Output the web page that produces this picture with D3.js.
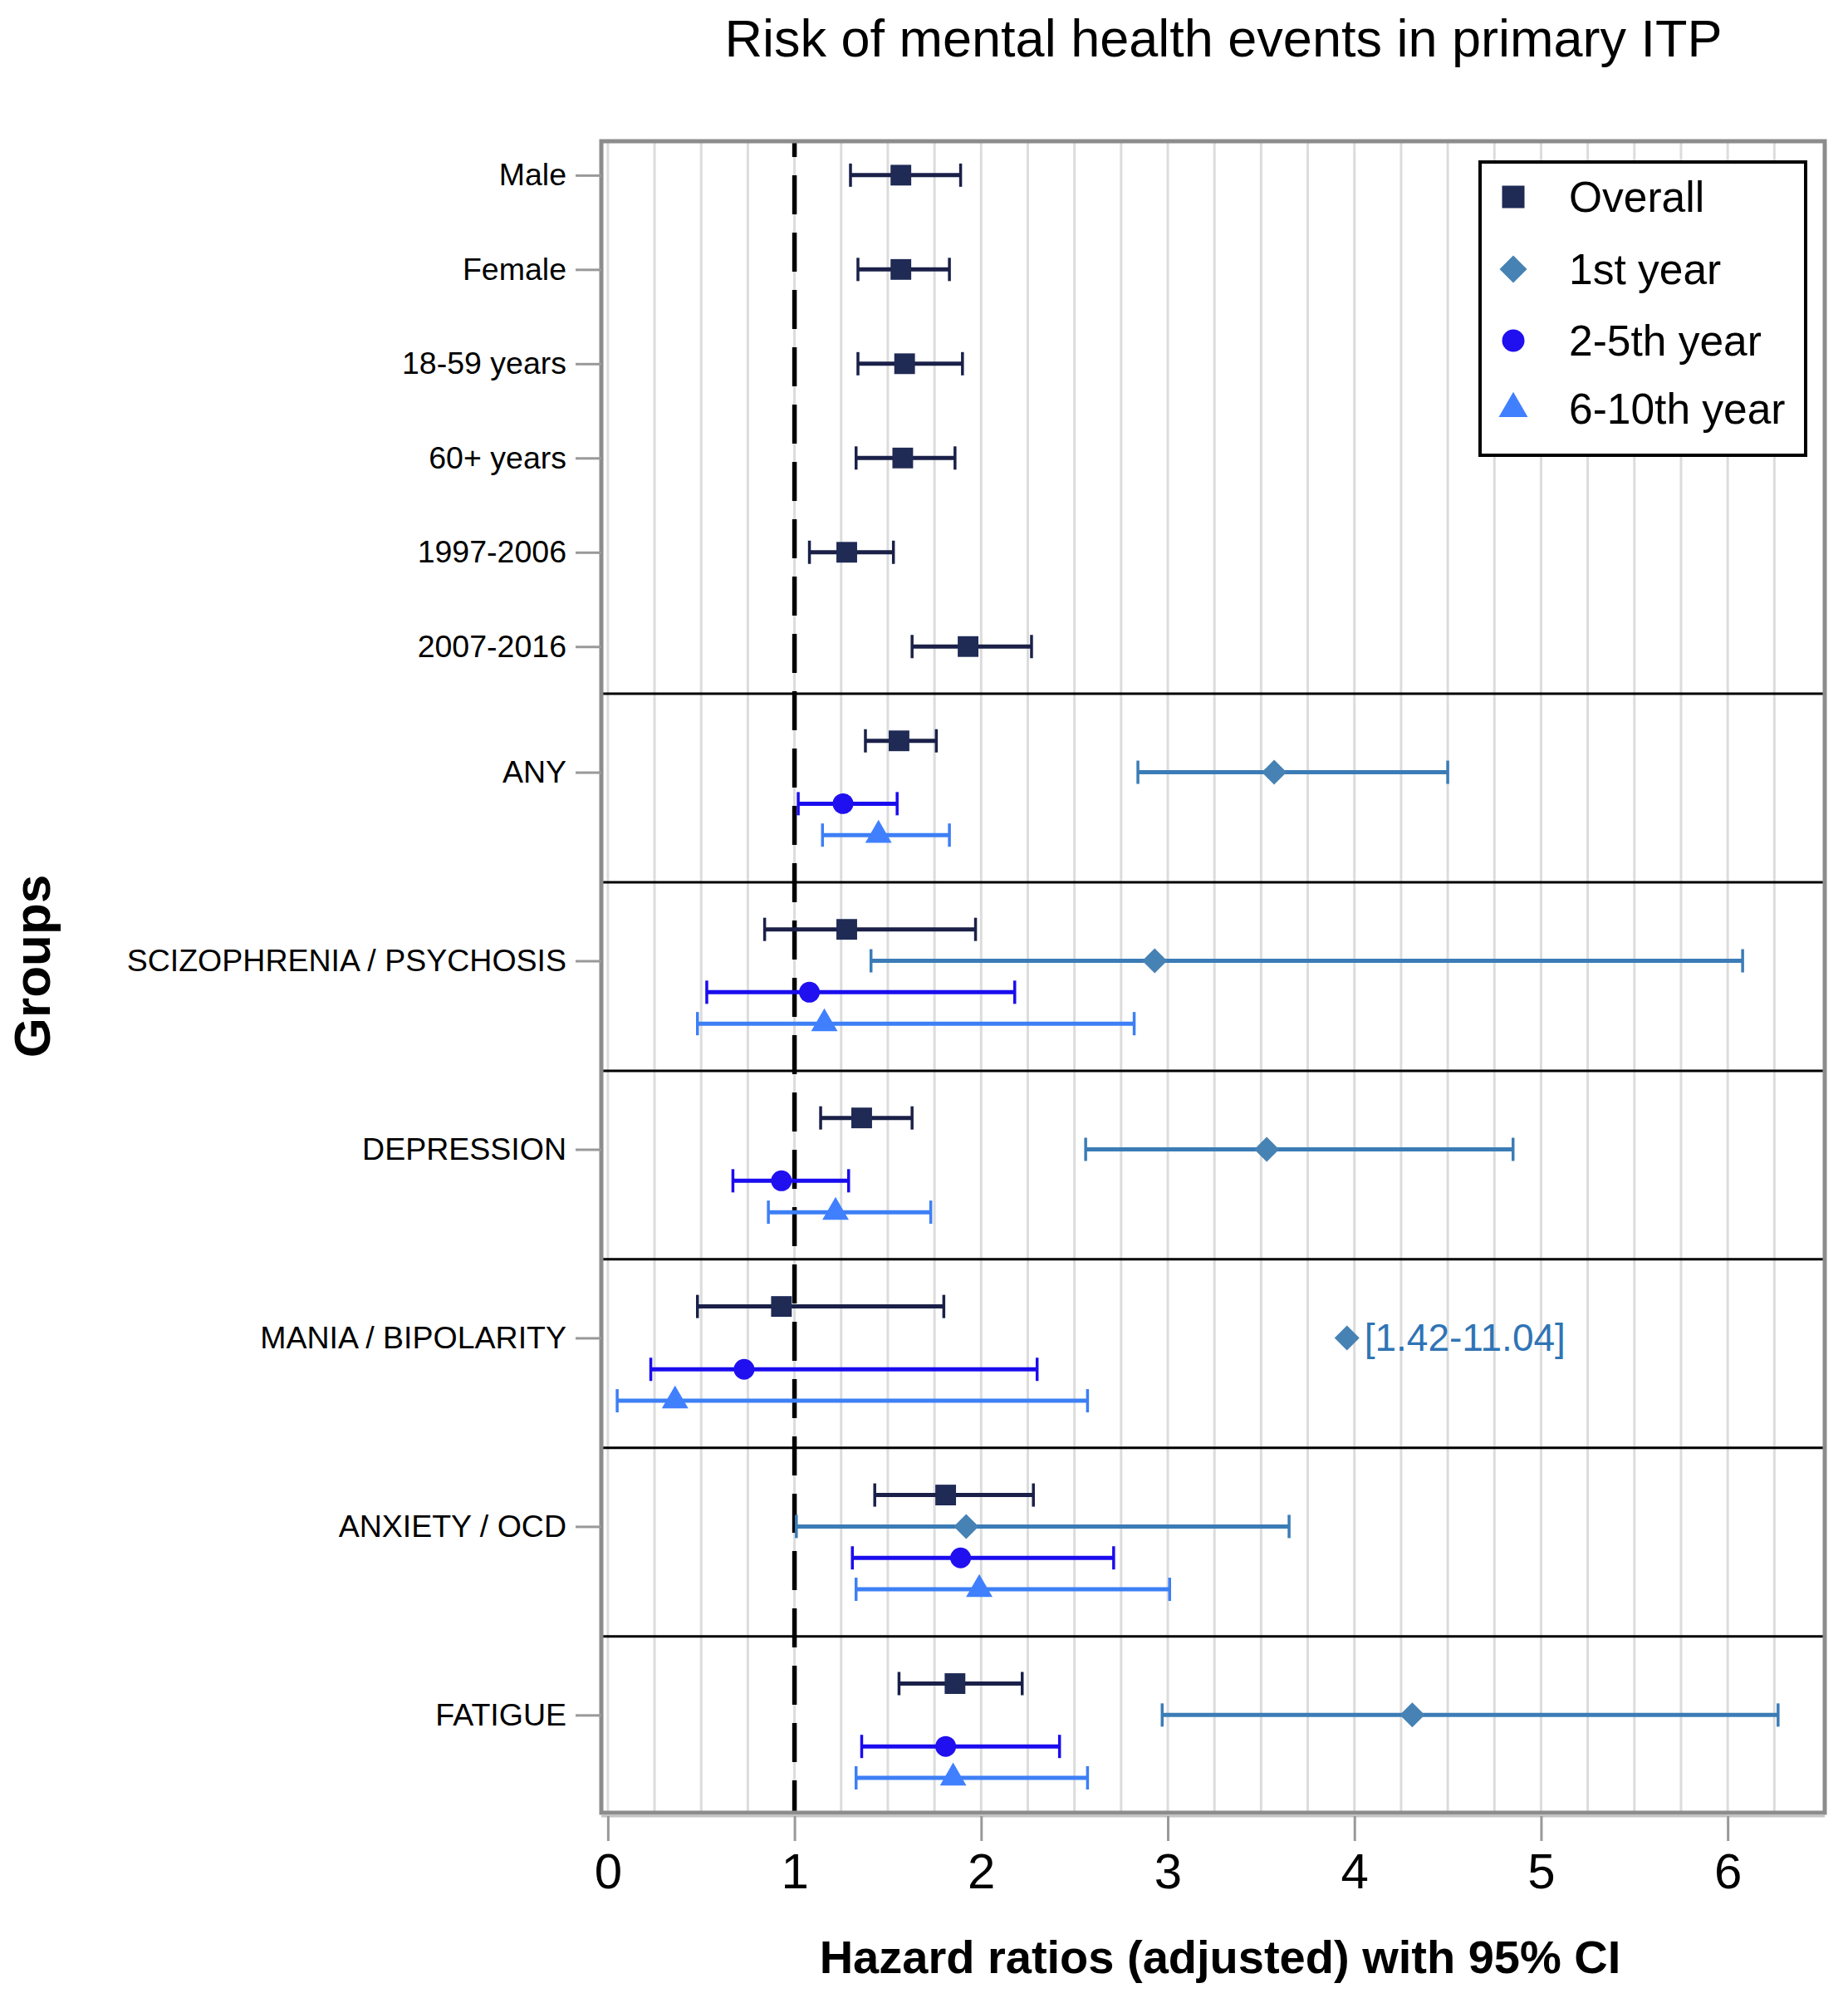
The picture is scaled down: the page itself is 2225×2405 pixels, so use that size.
<!DOCTYPE html>
<html>
<head>
<meta charset="utf-8">
<script src="https://cdn.jsdelivr.net/npm/d3@7"></script>
<style>
  body { margin: 0; background: #fff; }
  svg { font-family: "Liberation Sans", Arial, sans-serif; display: block; }
</style>
</head>
<body>
<div id="chart"></div>
<script>
// labels for the y axis
var demoLabels = ["Male", "Female", "18-59 years", "60+ years", "1997-2006", "2007-2016"];
var outcomeLabels = ["ANY", "SCIZOPHRENIA / PSYCHOSIS", "DEPRESSION", "MANIA / BIPOLARITY", "ANXIETY / OCD", "FATIGUE"];
var seriesNames = ["Overall", "1st year", "2-5th year", "6-10th year"];
var xTicks = [0, 1, 2, 3, 4, 5, 6];

// overall: 6 demographic rows, then the 6 outcomes
var overallHR = [1.57, 1.57, 1.59, 1.58, 1.28, 1.93, 1.56, 1.28, 1.36, 0.93, 1.81, 1.86];
var overallLo = [1.30, 1.34, 1.34, 1.33, 1.08, 1.63, 1.38, 0.84, 1.14, 0.48, 1.43, 1.56];
var overallHi = [1.89, 1.83, 1.90, 1.86, 1.53, 2.27, 1.76, 1.97, 1.63, 1.80, 2.28, 2.22];

// per outcome
var firstHR = [3.57, 2.93, 3.53, 3.96, 1.92, 4.31];
var firstLo = [2.84, 1.41, 2.56, null, 1.01, 2.97];
var firstHi = [4.50, 6.08, 4.85, null, 3.65, 6.27];

var secondHR = [1.26, 1.08, 0.93, 0.73, 1.89, 1.81];
var secondLo = [1.02, 0.53, 0.67, 0.23, 1.31, 1.36];
var secondHi = [1.55, 2.18, 1.29, 2.30, 2.71, 2.42];

var thirdHR = [1.45, 1.16, 1.22, 0.36, 1.99, 1.85];
var thirdLo = [1.15, 0.48, 0.86, 0.05, 1.33, 1.33];
var thirdHi = [1.83, 2.82, 1.73, 2.57, 3.01, 2.57];

var maniaNote = "[1.42-11.04]";

var svgWidth = 2225, svgHeight = 2405;
var margin = { top: 170, left: 724, right: 28, bottom: 223 };
var width = svgWidth - margin.left - margin.right;
var height = svgHeight - margin.top - margin.bottom;

var colors = ["#1f2a55", "#4682b4", "#2010f0", "#4080ff"];
var lineColors = ["#1a2048", "#3b7cb6", "#1a0cee", "#3d7ff5"];
var shapes = [d3.symbolSquare, d3.symbolSquare, d3.symbolCircle, d3.symbolTriangle];
var sizes = [620, 450, 490, 440];
var rotations = [0, 45, 0, 0];

var svg = d3.select("#chart").append("svg")
    .attr("width", svgWidth)
    .attr("height", svgHeight);

var chart = svg.append("g")
    .attr("transform", `translate(${margin.left},${margin.top})`);

var x = d3.scaleLinear().domain([-0.035, 6.52]).range([0, width]);
// row units: demographic rows 0..5, each outcome takes 2 units
var y = d3.scaleLinear().domain([-0.36, 17.37]).range([0, height]);

// build rows
var rows = [];
demoLabels.forEach(function (lab, i) {
    rows.push({ s: 0, pos: i, hr: overallHR[i], lo: overallLo[i], hi: overallHi[i] });
});
outcomeLabels.forEach(function (lab, j) {
    var base = 6 + 2 * j;
    var sets = [
        [overallHR[6 + j], overallLo[6 + j], overallHi[6 + j]],
        [firstHR[j], firstLo[j], firstHi[j]],
        [secondHR[j], secondLo[j], secondHi[j]],
        [thirdHR[j], thirdLo[j], thirdHi[j]]
    ];
    sets.forEach(function (v, s) {
        rows.push({ s: s, pos: base + s / 3, hr: v[0], lo: v[1], hi: v[2] });
    });
});

var tickPos = demoLabels.map(function (d, i) { return i; })
    .concat(outcomeLabels.map(function (d, j) { return 6 + 2 * j + 1 / 3; }));
var tickLab = demoLabels.concat(outcomeLabels);

// gridlines every 0.25
chart.append("g").selectAll("line")
    .data(d3.range(0, 6.26, 0.25))
    .enter().append("line")
    .attr("x1", d => x(d)).attr("x2", d => x(d))
    .attr("y1", 0).attr("y2", height)
    .attr("stroke", "#dcdcdc")
    .attr("stroke-width", 3);

// section separators
chart.append("g").selectAll("line")
    .data([5.5, 7.5, 9.5, 11.5, 13.5, 15.5])
    .enter().append("line")
    .attr("x1", 0).attr("x2", width)
    .attr("y1", d => y(d)).attr("y2", d => y(d))
    .attr("stroke", "#000")
    .attr("stroke-width", 3);

// reference line at HR = 1
chart.append("line")
    .attr("x1", x(1)).attr("x2", x(1))
    .attr("y1", 0).attr("y2", height)
    .attr("stroke", "#000")
    .attr("stroke-width", 5.5)
    .attr("stroke-dasharray", "47,22")
    .attr("stroke-dashoffset", 28);

// error bars
var bars = rows.filter(d => d.lo != null);
var eb = chart.append("g").selectAll("g")
    .data(bars)
    .enter().append("g")
    .attr("stroke", d => lineColors[d.s]);
eb.append("line")
    .attr("x1", d => x(d.lo)).attr("x2", d => x(d.hi))
    .attr("y1", d => y(d.pos)).attr("y2", d => y(d.pos))
    .attr("stroke-width", 5);
eb.append("line")
    .attr("x1", d => x(d.lo)).attr("x2", d => x(d.lo))
    .attr("y1", d => y(d.pos) - 14).attr("y2", d => y(d.pos) + 14)
    .attr("stroke-width", 3.5);
eb.append("line")
    .attr("x1", d => x(d.hi)).attr("x2", d => x(d.hi))
    .attr("y1", d => y(d.pos) - 14).attr("y2", d => y(d.pos) + 14)
    .attr("stroke-width", 3.5);

// markers
chart.append("g").selectAll("path")
    .data(rows)
    .enter().append("path")
    .attr("d", d => d3.symbol().type(shapes[d.s]).size(sizes[d.s])())
    .attr("transform", d => `translate(${x(d.hr)},${y(d.pos)}) rotate(${rotations[d.s]})`)
    .attr("fill", d => colors[d.s]);

// CI note for mania, 1st year
chart.append("text")
    .attr("x", x(firstHR[3]) + 21)
    .attr("y", y(6 + 2 * 3 + 1 / 3) + 16)
    .attr("font-size", 46)
    .attr("fill", "#2f74b5")
    .text(maniaNote);

// frame
chart.append("rect")
    .attr("x", 0).attr("y", 0)
    .attr("width", width).attr("height", height)
    .attr("fill", "none")
    .attr("stroke", "#8c8c8c")
    .attr("stroke-width", 5);
chart.append("line")
    .attr("x1", 0).attr("x2", width)
    .attr("y1", height + 4).attr("y2", height + 4)
    .attr("stroke", "#c4c4c4")
    .attr("stroke-width", 3);

// y axis
var yAxis = chart.append("g")
    .call(d3.axisLeft(y).tickValues(tickPos).tickFormat((d, i) => tickLab[i]).tickSize(31).tickPadding(11));
yAxis.select(".domain").remove();
yAxis.selectAll(".tick line").attr("stroke", "#999").attr("stroke-width", 3);
yAxis.selectAll(".tick text").attr("font-size", 37.5).attr("fill", "#000")
    .attr("font-family", '"Liberation Sans", Arial, sans-serif');

// x axis
var xAxis = chart.append("g")
    .attr("transform", `translate(0,${height + 4})`)
    .call(d3.axisBottom(x).tickValues(xTicks).tickFormat(d3.format("d")).tickSize(30).tickPadding(14));
xAxis.select(".domain").remove();
xAxis.selectAll(".tick line").attr("stroke", "#999").attr("stroke-width", 3);
xAxis.selectAll(".tick text").attr("font-size", 60).attr("fill", "#000")
    .attr("font-family", '"Liberation Sans", Arial, sans-serif');

// titles
svg.append("text")
    .attr("x", 1473).attr("y", 68)
    .attr("text-anchor", "middle")
    .attr("font-size", 63)
    .text("Risk of mental health events in primary ITP");

svg.append("text")
    .attr("x", 1469).attr("y", 2375)
    .attr("text-anchor", "middle")
    .attr("font-size", 56)
    .attr("font-weight", "bold")
    .text("Hazard ratios (adjusted) with 95% CI");

svg.append("text")
    .attr("transform", "translate(60,1163) rotate(-90)")
    .attr("text-anchor", "middle")
    .attr("font-size", 62)
    .attr("font-weight", "bold")
    .text("Groups");

// legend
var legend = svg.append("g");
legend.append("rect")
    .attr("x", 1782).attr("y", 195)
    .attr("width", 392).attr("height", 353)
    .attr("fill", "#fff")
    .attr("stroke", "#000")
    .attr("stroke-width", 4);
var legSizes = [729, 544, 573, 530];
var legY = [237, 324, 410, 492];
var item = legend.selectAll(".item")
    .data(seriesNames)
    .enter().append("g")
    .attr("class", "item")
    .attr("transform", (d, i) => `translate(0,${legY[i]})`);
item.append("path")
    .attr("d", (d, i) => d3.symbol().type(shapes[i]).size(legSizes[i])())
    .attr("transform", (d, i) => `translate(1822,0) rotate(${rotations[i]})`)
    .attr("fill", (d, i) => colors[i]);
item.append("text")
    .attr("x", 1889).attr("y", 18)
    .attr("font-size", 51.5)
    .text(d => d);
</script>
</body>
</html>
